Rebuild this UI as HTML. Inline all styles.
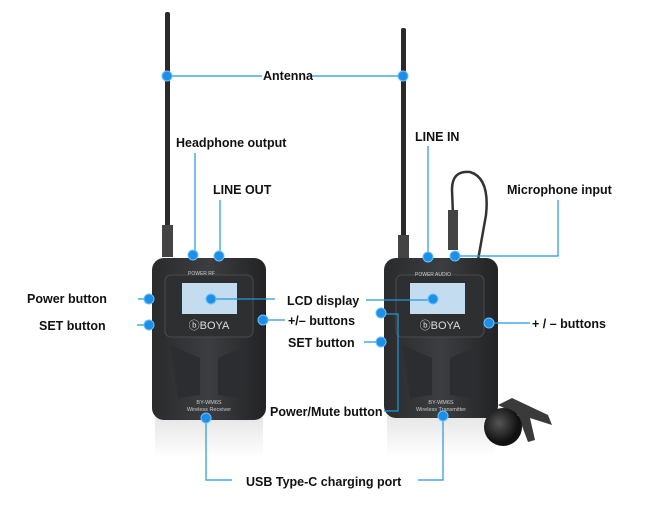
<!DOCTYPE html>
<html><head><meta charset="utf-8"><style>
html,body{margin:0;padding:0;background:#fff;}
svg{display:block;}
text{font-family:"Liberation Sans",Arial,sans-serif;font-size:12.5px;font-weight:bold;fill:#111;}
.ln{stroke:#2196e0;stroke-width:1.2;fill:none;}
.dot{fill:#1e8fe6;stroke:#6cc0ff;stroke-width:1;}
.sm{font-size:5.5px;font-weight:normal;fill:#ccc;}
</style></head><body>
<svg width="650" height="505" viewBox="0 0 650 505">
<defs>
<linearGradient id="bd" x1="0" x2="1"><stop offset="0" stop-color="#2a2b2d"/><stop offset="0.5" stop-color="#3c3d40"/><stop offset="1" stop-color="#222325"/></linearGradient>
<linearGradient id="rf" x1="0" y1="0" x2="0" y2="1"><stop offset="0" stop-color="#e6e6e6"/><stop offset="1" stop-color="#fff"/></linearGradient>
<radialGradient id="mic" cx="0.4" cy="0.4"><stop offset="0" stop-color="#555"/><stop offset="1" stop-color="#111"/></radialGradient>
</defs>
<rect x="165" y="12" width="5" height="225" rx="2" fill="#2a2a2a"/>
<rect x="162" y="225" width="11" height="32" fill="#444"/>
<rect x="401" y="28" width="5" height="215" rx="2" fill="#2a2a2a"/>
<rect x="398" y="235" width="11" height="24" fill="#444"/>
<path d="M453 215 L452 190 Q452 170 470 172 Q490 178 486 215 L478 260" stroke="#333" stroke-width="2.5" fill="none"/>
<rect x="448" y="210" width="10" height="40" fill="#444"/>
<rect x="155" y="418" width="108" height="40" fill="url(#rf)"/>
<rect x="387" y="416" width="108" height="40" fill="url(#rf)"/>
<rect x="152" y="258" width="114" height="162" rx="12" fill="url(#bd)"/>
<rect x="165" y="275" width="88" height="62" rx="6" fill="#2e2f31" stroke="#4a4b4e"/>
<rect x="182" y="283" width="55" height="31" fill="#c4dcf0"/>
<text x="209" y="329" text-anchor="middle" style="font-size:11px;fill:#ddd;font-weight:normal">ⓑBOYA</text>
<path d="M170 345 L200 358 L200 395 L178 398 Z M248 345 L218 358 L218 395 L240 398Z" fill="#2c2d30"/>
<text x="209" y="404" text-anchor="middle" class="sm">BY-WM6S</text>
<text x="209" y="411" text-anchor="middle" class="sm">Wireless Receiver</text>
<text x="188" y="275" class="sm" style="font-size:5px">POWER  RF</text>
<rect x="384" y="258" width="114" height="160" rx="12" fill="url(#bd)"/>
<rect x="396" y="275" width="88" height="62" rx="6" fill="#2e2f31" stroke="#4a4b4e"/>
<rect x="410" y="283" width="55" height="31" fill="#c4dcf0"/>
<text x="440" y="329" text-anchor="middle" style="font-size:11px;fill:#ddd;font-weight:normal">ⓑBOYA</text>
<path d="M402 345 L432 358 L432 395 L410 398 Z M480 345 L450 358 L450 395 L472 398Z" fill="#2c2d30"/>
<text x="441" y="404" text-anchor="middle" class="sm">BY-WM6S</text>
<text x="441" y="411" text-anchor="middle" class="sm">Wireless Transmitter</text>
<text x="415" y="276" class="sm" style="font-size:5px">POWER  AUDIO</text>
<path d="M498 405 L512 398 L548 415 L552 425 L530 418 L535 440 L528 442 L518 415 Z" fill="#3a3a3a"/>
<circle cx="503" cy="427" r="19" fill="url(#mic)"/>
<path class="ln" d="M167 76 H262 M312 76 H403"/>
<path class="ln" d="M195 255 V153 M220 255 V200 M428 256 V146 M455 256 H558 V200"/>
<path class="ln" d="M138 299 H149 M137 325 H149"/>
<path class="ln" d="M211 299 H275 M366 300 H431"/>
<path class="ln" d="M263 320 H285 M364 342 H381 M381 314 H398 V411 H384 M489 323 H530"/>
<path class="ln" d="M206 418 V480 H232 M443 416 V480 H418"/>
<g class="dot">
<circle cx="167" cy="76" r="5"/><circle cx="403" cy="76" r="5"/>
<circle cx="193" cy="255" r="5"/><circle cx="219" cy="256" r="5"/>
<circle cx="428" cy="257" r="5"/><circle cx="455" cy="256" r="5"/>
<circle cx="149" cy="299" r="5"/><circle cx="149" cy="325" r="5"/>
<circle cx="211" cy="299" r="5"/><circle cx="433" cy="299" r="5"/>
<circle cx="263" cy="320" r="5"/><circle cx="381" cy="313" r="5"/>
<circle cx="381" cy="342" r="5"/><circle cx="489" cy="323" r="5"/>
<circle cx="206" cy="418" r="5"/><circle cx="443" cy="416" r="5"/>
</g>
<text x="263" y="80">Antenna</text>
<text x="176" y="147">Headphone output</text>
<text x="213" y="194">LINE OUT</text>
<text x="415" y="141">LINE IN</text>
<text x="507" y="194">Microphone input</text>
<text x="27" y="303">Power button</text>
<text x="39" y="330">SET button</text>
<text x="287" y="305">LCD display</text>
<text x="288" y="325">+/– buttons</text>
<text x="288" y="347">SET button</text>
<text x="270" y="416">Power/Mute button</text>
<text x="532" y="328">+ / –  buttons</text>
<text x="246" y="486">USB Type-C charging port</text>
</svg>
</body></html>
